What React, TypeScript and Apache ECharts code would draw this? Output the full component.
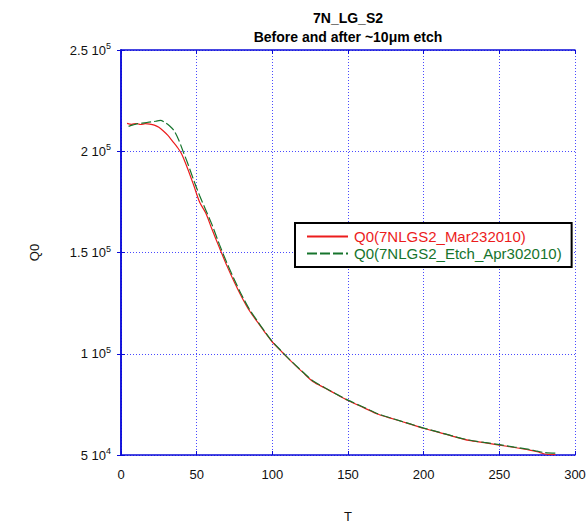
import React, { useEffect, useRef } from "react";
import * as echarts from "echarts";

// Temperature (T) and quality factor Q0 readings, before etch
const redT = [4, 7, 10, 13, 16, 19, 22, 25, 28, 31, 34, 37, 40, 44, 48, 52, 56, 60, 65, 70, 75, 80, 85, 90, 95, 100, 105, 110, 115, 120, 127, 135, 142, 150, 160, 170, 180, 190, 200, 210, 220, 230, 240, 250, 260, 270, 275, 280, 287];
const redQ = [213800, 213300, 213700, 213200, 213600, 213400, 212900, 211800, 210000, 207800, 205000, 202200, 198800, 191500, 183300, 174800, 169500, 161700, 152400, 143400, 135200, 127700, 121100, 115900, 110700, 105800, 101900, 98100, 94400, 90900, 86200, 83000, 80100, 76900, 73500, 70100, 67800, 65500, 63200, 61200, 59100, 57200, 56100, 54900, 53700, 52400, 51600, 50500, 50200];

// Readings after the ~10 µm etch
const greenT = [5, 8, 11, 14, 17, 20, 23, 26, 29, 32, 35, 38, 41, 44, 48, 52, 56, 60, 65, 70, 75, 80, 85, 90, 95, 100, 105, 110, 115, 120, 127, 135, 142, 150, 160, 170, 180, 190, 200, 210, 220, 230, 240, 250, 260, 270, 275, 280, 288];
const greenQ = [212300, 213000, 213600, 213900, 214200, 214500, 214800, 215200, 214200, 212600, 210200, 205800, 200000, 194200, 185800, 178000, 171000, 164000, 154000, 144800, 136400, 128600, 121800, 116300, 111000, 106000, 102100, 98200, 94600, 91100, 86500, 83100, 80200, 77100, 73700, 70300, 67900, 65600, 63300, 61300, 59200, 57400, 56200, 55100, 53900, 52700, 51900, 51200, 50900];

const seriesNames = ["Q0(7NLGS2_Mar232010)", "Q0(7NLGS2_Etch_Apr302010)"];
const titleLines = ["7N_LG_S2", "Before and after ~10\u03bcm etch"];
const xTicks = [0, 50, 100, 150, 200, 250, 300];
const yTicks = [50000, 100000, 150000, 200000, 250000];

const FONT = "'Liberation Sans', Arial, sans-serif";
const RED = "#ec1c1c";
const GREEN = "#16742c";
const AXIS_BLUE = "#0a0ad8";
const GRID_BLUE = "#4a4aff";

function sciLabel(v: number): string {
  const exp = Math.floor(Math.log10(v));
  const mant = +(v / Math.pow(10, exp)).toFixed(2);
  return `${mant} 10{sup|${exp}}`;
}

export default function App() {
  const ref = useRef<HTMLDivElement>(null);

  useEffect(() => {
    if (!ref.current) return;
    const chart = echarts.init(ref.current, undefined, { renderer: "svg" });

    const tickCommon = {
      show: true,
      inside: true,
      length: 4,
      lineStyle: { color: AXIS_BLUE, width: 1 },
    };

    chart.setOption({
      animation: false,
      backgroundColor: "#ffffff",
      textStyle: { fontFamily: FONT },
      grid: {
        left: 121,
        right: 13,
        top: 50,
        bottom: 68,
        containLabel: false,
        outerBoundsMode: "none",
      },
      graphic: [
        {
          type: "text",
          x: 348,
          y: 18,
          style: {
            text: titleLines[0],
            fontFamily: FONT,
            fontSize: 14,
            fontWeight: "bold",
            fill: "#000",
            textAlign: "center",
            textVerticalAlign: "middle",
          },
        },
        {
          type: "text",
          x: 348,
          y: 37,
          style: {
            text: titleLines[1],
            fontFamily: FONT,
            fontSize: 14,
            fontWeight: "bold",
            fill: "#000",
            textAlign: "center",
            textVerticalAlign: "middle",
          },
        },
      ],
      legend: {
        orient: "vertical",
        left: 295,
        top: 223,
        padding: [6, 10, 6, 11],
        itemGap: 2,
        itemWidth: 41,
        itemHeight: 14,
        borderColor: "#000",
        borderWidth: 2,
        backgroundColor: "#fff",
        itemStyle: { opacity: 0 },
        data: [
          { name: seriesNames[0], textStyle: { color: RED } },
          { name: seriesNames[1], textStyle: { color: GREEN } },
        ],
        textStyle: { fontFamily: FONT, fontSize: 15, padding: [0, 0, 0, 1] },
      },
      xAxis: [
        {
          type: "value",
          min: 0,
          max: 300,
          interval: 50,
          name: "T",
          nameLocation: "middle",
          nameGap: 55,
          nameTextStyle: { fontFamily: FONT, fontSize: 13, color: "#111" },
          axisLine: { show: true, lineStyle: { color: AXIS_BLUE, width: 1.5 } },
          axisTick: tickCommon,
          axisLabel: {
            fontFamily: FONT,
            fontSize: 13,
            color: "#111",
            margin: 13,
            formatter: (v: number) => (xTicks.includes(v) ? String(v) : ""),
          },
          splitLine: {
            show: true,
            lineStyle: { color: GRID_BLUE, width: 1, type: [1, 2] },
          },
        },
        {
          type: "value",
          position: "top",
          min: 0,
          max: 300,
          interval: 50,
          axisLine: { show: true, lineStyle: { color: AXIS_BLUE, width: 1.5 } },
          axisTick: tickCommon,
          axisLabel: { show: false },
          splitLine: { show: false },
        },
      ],
      yAxis: [
        {
          type: "value",
          min: 50000,
          max: 250000,
          interval: 50000,
          name: "Q0",
          nameLocation: "middle",
          nameGap: 80,
          nameTextStyle: { fontFamily: FONT, fontSize: 13, color: "#111" },
          axisLine: { show: true, lineStyle: { color: AXIS_BLUE, width: 1.5 } },
          axisTick: tickCommon,
          axisLabel: {
            fontFamily: FONT,
            fontSize: 13,
            color: "#111",
            margin: 10,
            formatter: (v: number) => (yTicks.includes(v) ? sciLabel(v) : ""),
            rich: {
              sup: {
                fontFamily: FONT,
                fontSize: 9,
                color: "#111",
                verticalAlign: "top",
                padding: [0, 0, 8, 0],
              },
            },
          },
          splitLine: {
            show: true,
            lineStyle: { color: GRID_BLUE, width: 1, type: [1, 2] },
          },
        },
        {
          type: "value",
          position: "right",
          min: 50000,
          max: 250000,
          interval: 50000,
          axisLine: { show: true, lineStyle: { color: AXIS_BLUE, width: 1.5 } },
          axisTick: tickCommon,
          axisLabel: { show: false },
          splitLine: { show: false },
        },
      ],
      series: [
        {
          name: seriesNames[0],
          type: "line",
          data: redT.map((t, i) => [t, redQ[i]]),
          symbol: "none",
          smooth: 0.3,
          lineStyle: { color: RED, width: 1.2 },
          itemStyle: { color: RED },
        },
        {
          name: seriesNames[1],
          type: "line",
          data: greenT.map((t, i) => [t, greenQ[i]]),
          symbol: "none",
          smooth: 0.3,
          lineStyle: { color: GREEN, width: 1.2, type: [10, 3] },
          itemStyle: { color: GREEN },
        },
      ],
    });

    return () => chart.dispose();
  }, []);

  return (
    <div
      ref={ref}
      style={{ position: "fixed", left: 0, top: 0, width: 588, height: 523, background: "#fff" }}
    />
  );
}
